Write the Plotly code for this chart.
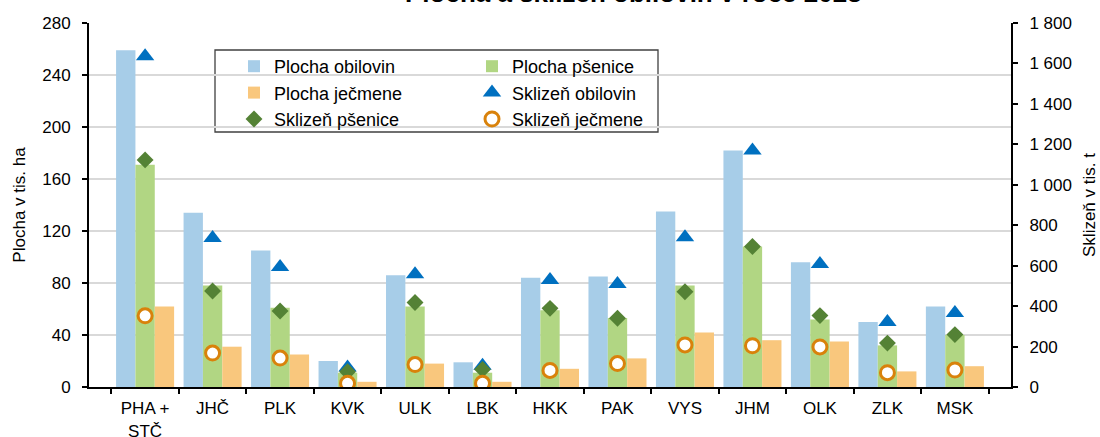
import plotly.graph_objects as go

regions = ["PHA +<br>STČ", "JHČ", "PLK", "KVK", "ULK", "LBK", "HKK", "PAK", "VYS", "JHM", "OLK", "ZLK", "MSK"]

plocha_obilovin = [259, 134, 105, 20, 86, 19, 84, 85, 135, 182, 96, 50, 62]
plocha_psenice = [171, 78, 61, 11, 62, 11, 59, 53, 78, 108, 52, 32, 40]
plocha_jecmene = [62, 31, 25, 4, 18, 4, 14, 22, 42, 36, 35, 12, 16]

sklizen_obilovin = [1635, 737, 593, 96, 557, 105, 529, 509, 741, 1170, 608, 321, 366]
sklizen_psenice = [1123, 475, 376, 76, 418, 87, 389, 340, 471, 695, 353, 217, 259]
sklizen_jecmene = [352, 168, 143, 18, 111, 18, 82, 116, 208, 204, 198, 71, 84]

left_ticks = [0, 40, 80, 120, 160, 200, 240, 280]
right_ticks = [0, 200, 400, 600, 800, 1000, 1200, 1400, 1600, 1800]
right_ticktext = ["0", "200", "400", "600", "800", "1 000", "1 200", "1 400", "1 600", "1 800"]

FONT = "Liberation Sans, Arial, sans-serif"
FS = 17

L, R, T, B = 89, 89, 23, 50
W, H = 1100, 437
pw, ph = W - L - R, H - T - B

def px_x(p):
    return (p - L) / pw

def px_y(p):
    return (H - B - p) / ph

fig = go.Figure()
fig.add_trace(go.Bar(x=regions, y=plocha_obilovin, name="Plocha obilovin", legend="legend",
                     legendgroup="a", marker=dict(color="#a7cde8", line=dict(width=0))))
fig.add_trace(go.Bar(x=regions, y=plocha_psenice, name="Plocha pšenice", legend="legend2",
                     legendgroup="b", marker=dict(color="#b1d683", line=dict(width=0))))
fig.add_trace(go.Bar(x=regions, y=plocha_jecmene, name="Plocha ječmene", legend="legend",
                     legendgroup="c", marker=dict(color="#f9c77d", line=dict(width=0))))
fig.add_trace(go.Scatter(x=regions, y=sklizen_obilovin, name="Sklizeň obilovin", yaxis="y2",
                         legend="legend2", legendgroup="d",
                         mode="markers", marker=dict(symbol="triangle-up", size=16, color="#0070c0")))
fig.add_trace(go.Scatter(x=regions, y=sklizen_psenice, name="Sklizeň pšenice", yaxis="y2",
                         legend="legend", legendgroup="e",
                         mode="markers", marker=dict(symbol="diamond", size=13, color="#548235")))
fig.add_trace(go.Scatter(x=regions, y=sklizen_jecmene, name="Sklizeň ječmene", yaxis="y2",
                         legend="legend2", legendgroup="f",
                         mode="markers", marker=dict(symbol="circle", size=14, color="white",
                                                     line=dict(color="#d9820b", width=3))))

legend_common = dict(orientation="v", xanchor="left", yanchor="top", bgcolor="rgba(0,0,0,0)",
                     borderwidth=0, font=dict(size=18, family=FONT), traceorder="grouped",
                     tracegroupgap=0)

fig.update_layout(
    width=W, height=H,
    margin=dict(l=L, r=R, t=T, b=B, autoexpand=False),
    paper_bgcolor="white", plot_bgcolor="white",
    font=dict(family=FONT, size=FS, color="#000000"),
    barmode="group", bargap=0.14, bargroupgap=0,
    showlegend=True,
    legend=dict(x=px_x(234), y=px_y(48), **legend_common),
    legend2=dict(x=px_x(472), y=px_y(48), **legend_common),
    xaxis=dict(showline=True, linecolor="black", linewidth=2, ticks="outside", ticklen=5,
               tickwidth=1.5, tickcolor="black", tickson="boundaries", showgrid=False,
               tickfont=dict(size=FS), automargin=False, ticklabelstandoff=5),
    yaxis=dict(range=[0, 280], tickvals=left_ticks, showline=True, linecolor="black", linewidth=2,
               ticks="outside", ticklen=5, tickwidth=1.5, tickcolor="black",
               showgrid=True, gridcolor="#d9d9d9", gridwidth=1.5, zeroline=False,
               title=dict(text="Plocha v tis. ha", standoff=12, font=dict(size=FS)),
               ticklabelstandoff=8, tickfont=dict(size=FS), automargin=False),
    yaxis2=dict(range=[0, 1800], tickvals=right_ticks, ticktext=right_ticktext, overlaying="y",
                side="right", showline=True, linecolor="black", linewidth=2, ticks="outside",
                ticklen=5, tickwidth=1.5, tickcolor="black", showgrid=False, zeroline=False,
                title=dict(text="Sklizeň v tis. t", standoff=12, font=dict(size=FS)),
                ticklabelstandoff=8, tickfont=dict(size=FS), automargin=False),
    shapes=[dict(type="rect", xref="paper", yref="paper", x0=px_x(215), x1=px_x(658),
                 y0=px_y(132), y1=px_y(50), line=dict(color="#404040", width=1.3),
                 fillcolor="white", layer="between")],
    annotations=[dict(text="<b>Plocha a sklizeň obilovin v roce 2023</b>", xref="paper", yref="paper",
                      x=px_x(633), y=px_y(-7), xanchor="center", yanchor="middle", showarrow=False,
                      font=dict(size=26, family=FONT, color="#000000"))],
)

fig.write_html("out.html", config={"displayModeBar": False},
               post_script="document.body.style.margin='0px';")
